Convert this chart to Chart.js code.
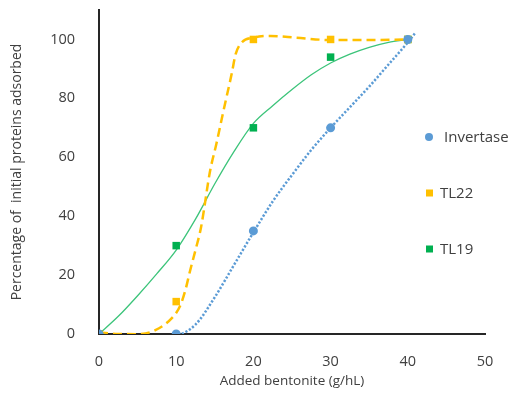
<!DOCTYPE html>
<html>
<head>
<meta charset="utf-8">
<script src="https://cdn.jsdelivr.net/npm/chart.js@4.4.1/dist/chart.umd.min.js"></script>
<style>
    body { margin: 0; background: #fff; }
    #wrap { width: 519px; height: 397px; }
</style>
</head>
<body>
<div id="wrap"><canvas id="adsorbChart"></canvas></div>
<script>
// measured points
var doses = [0, 10, 20, 30, 40];
var invertase = [0, 0, 35, 70, 100];
var tl22 = [0, 11, 100, 100, 100];
var tl19 = [0, 30, 70, 94, 100];

// trend curves
var invTrendX = [0, 2.5, 5, 7.5, 10, 12.5, 15, 17.5, 20, 22.5, 25, 27.5, 30, 32.5, 35, 37.5, 40, 40.9];
var invTrendY = [0, -1.3, -1.8, -1.6, -0.7, 3.2, 12.5, 23.5, 34.5, 45, 54, 62.5, 70, 77, 84, 91.5, 99, 102];
var tl22TrendX = [0, 2.5, 5, 7.3, 9.4, 10.5, 11.2, 11.8, 12.5, 13.2, 14.4, 15.2, 16.1, 17.2, 17.7, 18.5, 20, 22.2, 25.6, 30, 35, 40];
var tl22TrendY = [0.5, 0, -0.1, 1.3, 5.3, 9.5, 15, 21.5, 28.5, 36, 55.5, 64.5, 75.5, 88.5, 95, 99, 100.6, 101.2, 100.6, 99.8, 99.8, 100];
var tl19TrendX = [0, 2.5, 5, 7.5, 10, 12.5, 15, 17.5, 20, 22.5, 25, 27.5, 30, 32.5, 35, 37.5, 40];
var tl19TrendY = [0, 6, 13, 20.5, 28.5, 39, 51, 62, 71.5, 77.5, 83, 88, 92, 95, 97.3, 99, 100];

var seriesNames = ['Invertase', 'TL22', 'TL19'];
var seriesColors = ['#5B9BD5', '#FFC000', '#00B050'];
var xTicks = [0, 10, 20, 30, 40, 50];
var yTicks = [0, 20, 40, 60, 80, 100];

var textColor = '#404040';
var fontFamily = '"Open Sans", sans-serif';

function toPoints(xs, ys) {
    return xs.map(function (x, i) { return { x: x, y: ys[i] }; });
}

// legend drawn to the right, inside the plot like the original
var sideLegend = {
    id: 'sideLegend',
    afterDraw: function (chart) {
        var ctx = chart.ctx;
        ctx.save();
        ctx.font = '15px ' + fontFamily;
        ctx.textBaseline = 'middle';
        for (var i = 0; i < seriesNames.length; i++) {
            var y = 137 + i * 56;
            ctx.fillStyle = seriesColors[i];
            if (i === 0) {
                ctx.beginPath();
                ctx.arc(429, y, 4, 0, Math.PI * 2);
                ctx.fill();
            } else {
                ctx.fillRect(426, y - 3.5, 7, 7);
            }
            ctx.fillStyle = textColor;
            ctx.fillText(seriesNames[i], i === 0 ? 444 : 440, y + 1);
        }
        ctx.restore();
    }
};

var ctx = document.getElementById('adsorbChart').getContext('2d');
var adsorbChart = new Chart(ctx, {
    type: 'scatter',
    data: {
        datasets: [
            {
                label: seriesNames[0],
                data: toPoints(doses, invertase),
                pointStyle: 'circle',
                pointRadius: 4.5,
                pointBackgroundColor: seriesColors[0],
                pointBorderColor: seriesColors[0],
                pointBorderWidth: 0,
                showLine: false
            },
            {
                label: seriesNames[1],
                data: toPoints(doses, tl22),
                pointStyle: 'rect',
                pointRadius: 5.3,
                pointBackgroundColor: seriesColors[1],
                pointBorderColor: seriesColors[1],
                pointBorderWidth: 0,
                showLine: false
            },
            {
                label: seriesNames[2],
                data: toPoints(doses, tl19),
                pointStyle: 'rect',
                pointRadius: 5.3,
                pointBackgroundColor: seriesColors[2],
                pointBorderColor: seriesColors[2],
                pointBorderWidth: 0,
                showLine: false
            },
            {
                label: 'Invertase trend',
                data: toPoints(invTrendX, invTrendY),
                showLine: true,
                pointRadius: 0,
                borderColor: seriesColors[0],
                borderWidth: 2.5,
                borderDash: [2.2, 1.8],
                cubicInterpolationMode: 'monotone'
            },
            {
                label: 'TL22 trend',
                data: toPoints(tl22TrendX, tl22TrendY),
                showLine: true,
                pointRadius: 0,
                borderColor: seriesColors[1],
                borderWidth: 2.5,
                borderDash: [9, 5],
                cubicInterpolationMode: 'monotone'
            },
            {
                label: 'TL19 trend',
                data: toPoints(tl19TrendX, tl19TrendY),
                showLine: true,
                pointRadius: 0,
                borderColor: '#3CC47A',
                borderWidth: 1.3,
                cubicInterpolationMode: 'monotone'
            }
        ]
    },
    options: {
        responsive: true,
        maintainAspectRatio: false,
        animation: false,
        layout: { padding: { top: 10, right: 34, left: 0, bottom: 0 } },
        plugins: {
            legend: { display: false },
            tooltip: { enabled: false }
        },
        scales: {
            x: {
                type: 'linear',
                min: xTicks[0],
                max: xTicks[xTicks.length - 1],
                afterBuildTicks: function (scale) {
                    scale.ticks = xTicks.map(function (v) { return { value: v }; });
                },
                afterFit: function (scale) {
                    scale.height = 63;
                    scale.paddingLeft = 0;
                    scale.paddingRight = 0;
                },
                grid: { display: false },
                border: { display: true, color: '#262626', width: 2 },
                ticks: { color: textColor, font: { family: fontFamily, size: 14.5 }, padding: 11 },
                title: {
                    display: true,
                    text: 'Added bentonite (g/hL)',
                    color: textColor,
                    font: { family: fontFamily, size: 13.5 },
                    padding: { top: 0, bottom: 8 }
                }
            },
            y: {
                min: 0,
                max: 110,
                afterBuildTicks: function (scale) {
                    scale.ticks = yTicks.map(function (v) { return { value: v }; });
                },
                afterFit: function (scale) {
                    scale.width = 99;
                    scale.paddingTop = 0;
                    scale.paddingBottom = 0;
                },
                grid: { display: false },
                border: { display: true, color: '#262626', width: 2 },
                ticks: { color: textColor, font: { family: fontFamily, size: 14.5 }, padding: 16 },
                title: {
                    display: true,
                    text: 'Percentage of  initial proteins adsorbed',
                    color: textColor,
                    font: { family: fontFamily, size: 14 },
                    padding: { top: 9, bottom: 0 }
                }
            }
        }
    },
    plugins: [sideLegend]
});
</script>
</body>
</html>
